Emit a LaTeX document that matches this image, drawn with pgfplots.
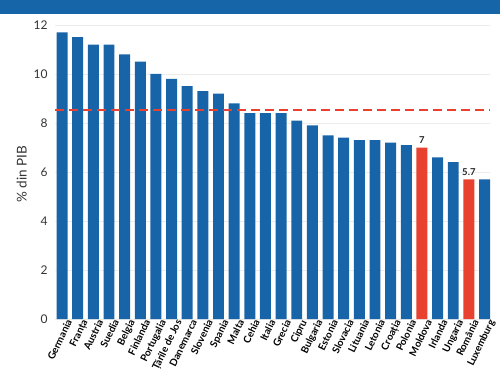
\documentclass[border=0pt]{standalone}
\usepackage{fontspec}
\setmainfont{Lato}
\usepackage{pgfplots}
\pgfplotsset{compat=1.18}
\definecolor{barblue}{HTML}{1765A8}
\definecolor{barred}{HTML}{E8412F}
\definecolor{hdr}{HTML}{1665A9}
\begin{document}
\begin{tikzpicture}[x=1pt,y=1pt]
\useasboundingbox (0,0) rectangle (500,375);
\clip (0,0) rectangle (500,375);
\fill[hdr] (0,361) rectangle (500,375);
\begin{axis}[
  at={(55pt,56pt)}, anchor=south west,
  scale only axis, width=435pt, height=294pt,
  xmin=-0.45, xmax=27.35, ymin=0, ymax=12,
  ybar, bar width=0.7,
  axis line style={draw=none},
  ytick={0,2,...,12}, major tick length=0pt,
  ymajorgrids, grid style={gray!15, line width=0.6pt},
  xtick={0,...,27},
  xticklabels={Germania,Franța,Austria,Suedia,Belgia,Finlanda,Portugalia,Țările de Jos,Danemarca,Slovenia,Spania,Malta,Cehia,Italia,Grecia,Cipru,Bulgaria,Estonia,Slovacia,Lituania,Letonia,Croația,Polonia,Moldova,Irlanda,Ungaria,România,Luxemburg},
  xticklabel style={rotate=64, anchor=north east, font=\bfseries\fontsize{10}{11}\selectfont, inner sep=0pt, yshift=-3pt, xshift=2pt},
  yticklabel style={font=\fontsize{12}{13}\selectfont, text=black!80, xshift=-4pt},
  /pgf/number format/assume math mode=true,
  every axis y label/.style={at={(ticklabel cs:0.5)}, rotate=90, anchor=near ticklabel, xshift=-2pt},
  ylabel={\% din PIB}, ylabel style={font=\fontsize{13.5}{15}\selectfont, text=black!80},
  clip=false,
]
\addplot[fill=barblue, draw=none, bar shift=0pt] coordinates {
(0,11.7) (1,11.5) (2,11.2) (3,11.2) (4,10.8) (5,10.5) (6,10.0) (7,9.8) (8,9.5) (9,9.3) (10,9.2) (11,8.8) (12,8.4) (13,8.4) (14,8.4) (15,8.1) (16,7.9) (17,7.5) (18,7.4) (19,7.3) (20,7.3) (21,7.2) (22,7.1) (24,6.6) (25,6.4) (27,5.7)};
\addplot[fill=barred, draw=none, bar shift=0pt, nodes near coords, nodes near coords style={font=\bfseries\fontsize{9.5}{10}\selectfont, text=black!85}] coordinates {(23,7.0) (26,5.7)};
\addplot[barred, line width=2.8pt, dash pattern=on 9pt off 5pt, sharp plot, forget plot] coordinates {(-0.45,8.53) (27.35,8.53)};
\end{axis}
\end{tikzpicture}
\end{document}
